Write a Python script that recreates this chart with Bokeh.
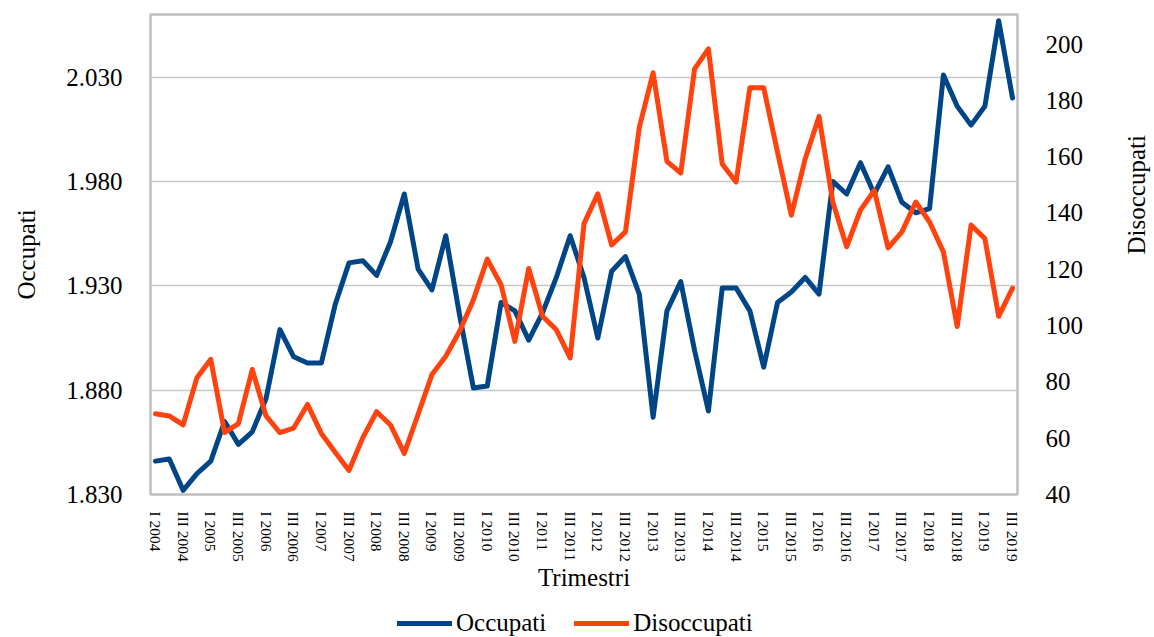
import math
from bokeh.plotting import figure
from bokeh.layouts import column
from bokeh.models import (Range1d, LinearAxis, FixedTicker, Legend, LegendItem,
                          ColumnDataSource)
from bokeh.embed import file_html
from bokeh.resources import INLINE

# ---- data ----
roman = ["I", "II", "III", "IV"]
quarters = [f"{q} {y}" for y in range(2004, 2020) for q in roman][:63]

occupati = [1846, 1847, 1832, 1840, 1846, 1865, 1854, 1860, 1876, 1909,
            1896, 1893, 1893, 1921, 1941, 1942, 1935, 1951, 1974, 1938,
            1928, 1954, 1916, 1881, 1882, 1922, 1918, 1904, 1917, 1934,
            1954, 1934, 1905, 1937, 1944, 1926, 1867, 1918, 1932, 1899,
            1870, 1929, 1929, 1918, 1891, 1922, 1927, 1934, 1926, 1980,
            1974, 1989, 1974, 1987, 1970, 1965, 1967, 2031, 2016, 2007,
            2016, 2057, 2020]

disoccupati = [68.7, 67.9, 64.7, 81.5, 88.0, 62.0, 65.2, 84.4, 67.9, 62.0,
               63.6, 72.0, 61.7, 55.0, 48.5, 60.2, 69.4, 64.7, 54.6, 68.5,
               82.6, 89.1, 98.0, 109.2, 123.6, 114.5, 94.4, 120.3, 103.3, 98.5,
               88.5, 136.2, 146.8, 128.6, 133.3, 170.4, 189.8, 158.3, 154.2, 191.2,
               198.3, 157.4, 151.0, 184.5, 184.5, 161.6, 139.2, 159.2, 174.3, 143.9,
               128.0, 141.0, 148.0, 127.6, 133.3, 143.9, 136.8, 126.2, 99.7, 135.7,
               130.9, 103.3, 113.3]

left_ticks = [1830, 1880, 1930, 1980, 2030]
left_labels = ["1.830", "1.880", "1.930", "1.980", "2.030"]
right_ticks = [40, 60, 80, 100, 120, 140, 160, 180, 200]

FONT = "Liberation Serif"
BLUE = "#004586"
ORANGE = "#ff420e"

idx = list(range(len(quarters)))
src = ColumnDataSource(dict(x=idx, occ=occupati, dis=disoccupati))

p = figure(width=1168, height=605, output_backend="svg",
           toolbar_location=None,
           x_range=Range1d(-0.36, len(quarters) - 1 + 0.36),
           y_range=Range1d(1830, 2060),
           min_border_left=150, min_border_right=151,
           min_border_top=14, min_border_bottom=111)
p.extra_y_ranges = {"dis": Range1d(40, 210.5)}

r1 = p.line("x", "occ", source=src, line_color=BLUE, line_width=5,
            line_join="round", line_cap="round")
r2 = p.line("x", "dis", source=src, y_range_name="dis", line_color=ORANGE,
            line_width=5, line_join="round", line_cap="round")

p.outline_line_color = "#bfbfbf"
p.outline_line_width = 2.5
p.background_fill_color = "white"
p.border_fill_color = "white"

p.xgrid.visible = False
p.ygrid.grid_line_color = "#c8c8c8"
p.ygrid.grid_line_width = 1.5
p.ygrid.ticker = FixedTicker(ticks=left_ticks)

# x axis
xa = p.xaxis[0]
xa.ticker = FixedTicker(ticks=idx[::2])
xa.major_label_overrides = {i: quarters[i] for i in idx[::2]}
xa.major_label_orientation = -math.pi / 2
xa.major_label_text_font = FONT
xa.major_label_text_font_size = "15.5px"
xa.major_label_text_color = "black"
xa.major_label_standoff = 11
xa.axis_label = "Trimestri"
xa.axis_label_text_font = FONT
xa.axis_label_text_font_size = "25px"
xa.axis_label_text_font_style = "normal"
xa.axis_label_text_color = "black"
xa.axis_label_standoff = -1

# left axis
ya = p.yaxis[0]
ya.ticker = FixedTicker(ticks=left_ticks)
ya.major_label_overrides = dict(zip(left_ticks, left_labels))
ya.major_label_text_font = FONT
ya.major_label_text_font_size = "25px"
ya.major_label_text_color = "black"
ya.major_label_standoff = 22
ya.axis_label = "Occupati"
ya.axis_label_text_font = FONT
ya.axis_label_text_font_size = "25px"
ya.axis_label_text_font_style = "normal"
ya.axis_label_text_color = "black"
ya.axis_label_standoff = 23

# right axis
ra = LinearAxis(y_range_name="dis", ticker=FixedTicker(ticks=right_ticks))
ra.major_label_text_font = FONT
ra.major_label_text_font_size = "25px"
ra.major_label_text_color = "black"
ra.major_label_standoff = 22
ra.axis_label = "Disoccupati"
ra.axis_label_text_font = FONT
ra.axis_label_text_font_size = "25px"
ra.axis_label_text_font_style = "normal"
ra.axis_label_text_color = "black"
ra.axis_label_standoff = 50
try:
    ra.axis_label_orientation = math.pi / 2
except Exception:
    pass
p.add_layout(ra, "right")

for ax in (xa, ya, ra):
    ax.axis_line_color = None
    ax.major_tick_line_color = None
    ax.minor_tick_line_color = None

# ---- legend strip under the chart ----
lf = figure(width=1154, height=32, output_backend="svg", toolbar_location=None,
            x_axis_location=None, y_axis_location=None, min_border=0)
lf.outline_line_color = None
lf.xgrid.visible = False
lf.ygrid.visible = False
lf.background_fill_color = "white"
lf.border_fill_color = "white"
l1 = lf.line("x", "occ", source=src, line_color=BLUE, line_width=5,
             line_cap="round", visible=False)
l2 = lf.line("x", "dis", source=src, line_color=ORANGE, line_width=5,
             line_cap="round", visible=False)

legend = Legend(items=[LegendItem(label="Occupati", renderers=[l1]),
                       LegendItem(label="Disoccupati", renderers=[l2])],
                orientation="horizontal", location=(247, 0))
legend.label_text_font = FONT
legend.label_text_font_size = "25px"
legend.label_text_color = "black"
legend.label_height = 22
legend.glyph_width = 55
legend.glyph_height = 22
legend.label_standoff = 4
legend.spacing = 28
legend.padding = 0
legend.margin = 0
legend.border_line_color = None
legend.background_fill_alpha = 0
legend.inactive_fill_alpha = 0
legend.click_policy = "none"
lf.add_layout(legend, "center")

layout = column(p, lf, spacing=0)
open("out.html", "w").write(file_html(layout, INLINE))
